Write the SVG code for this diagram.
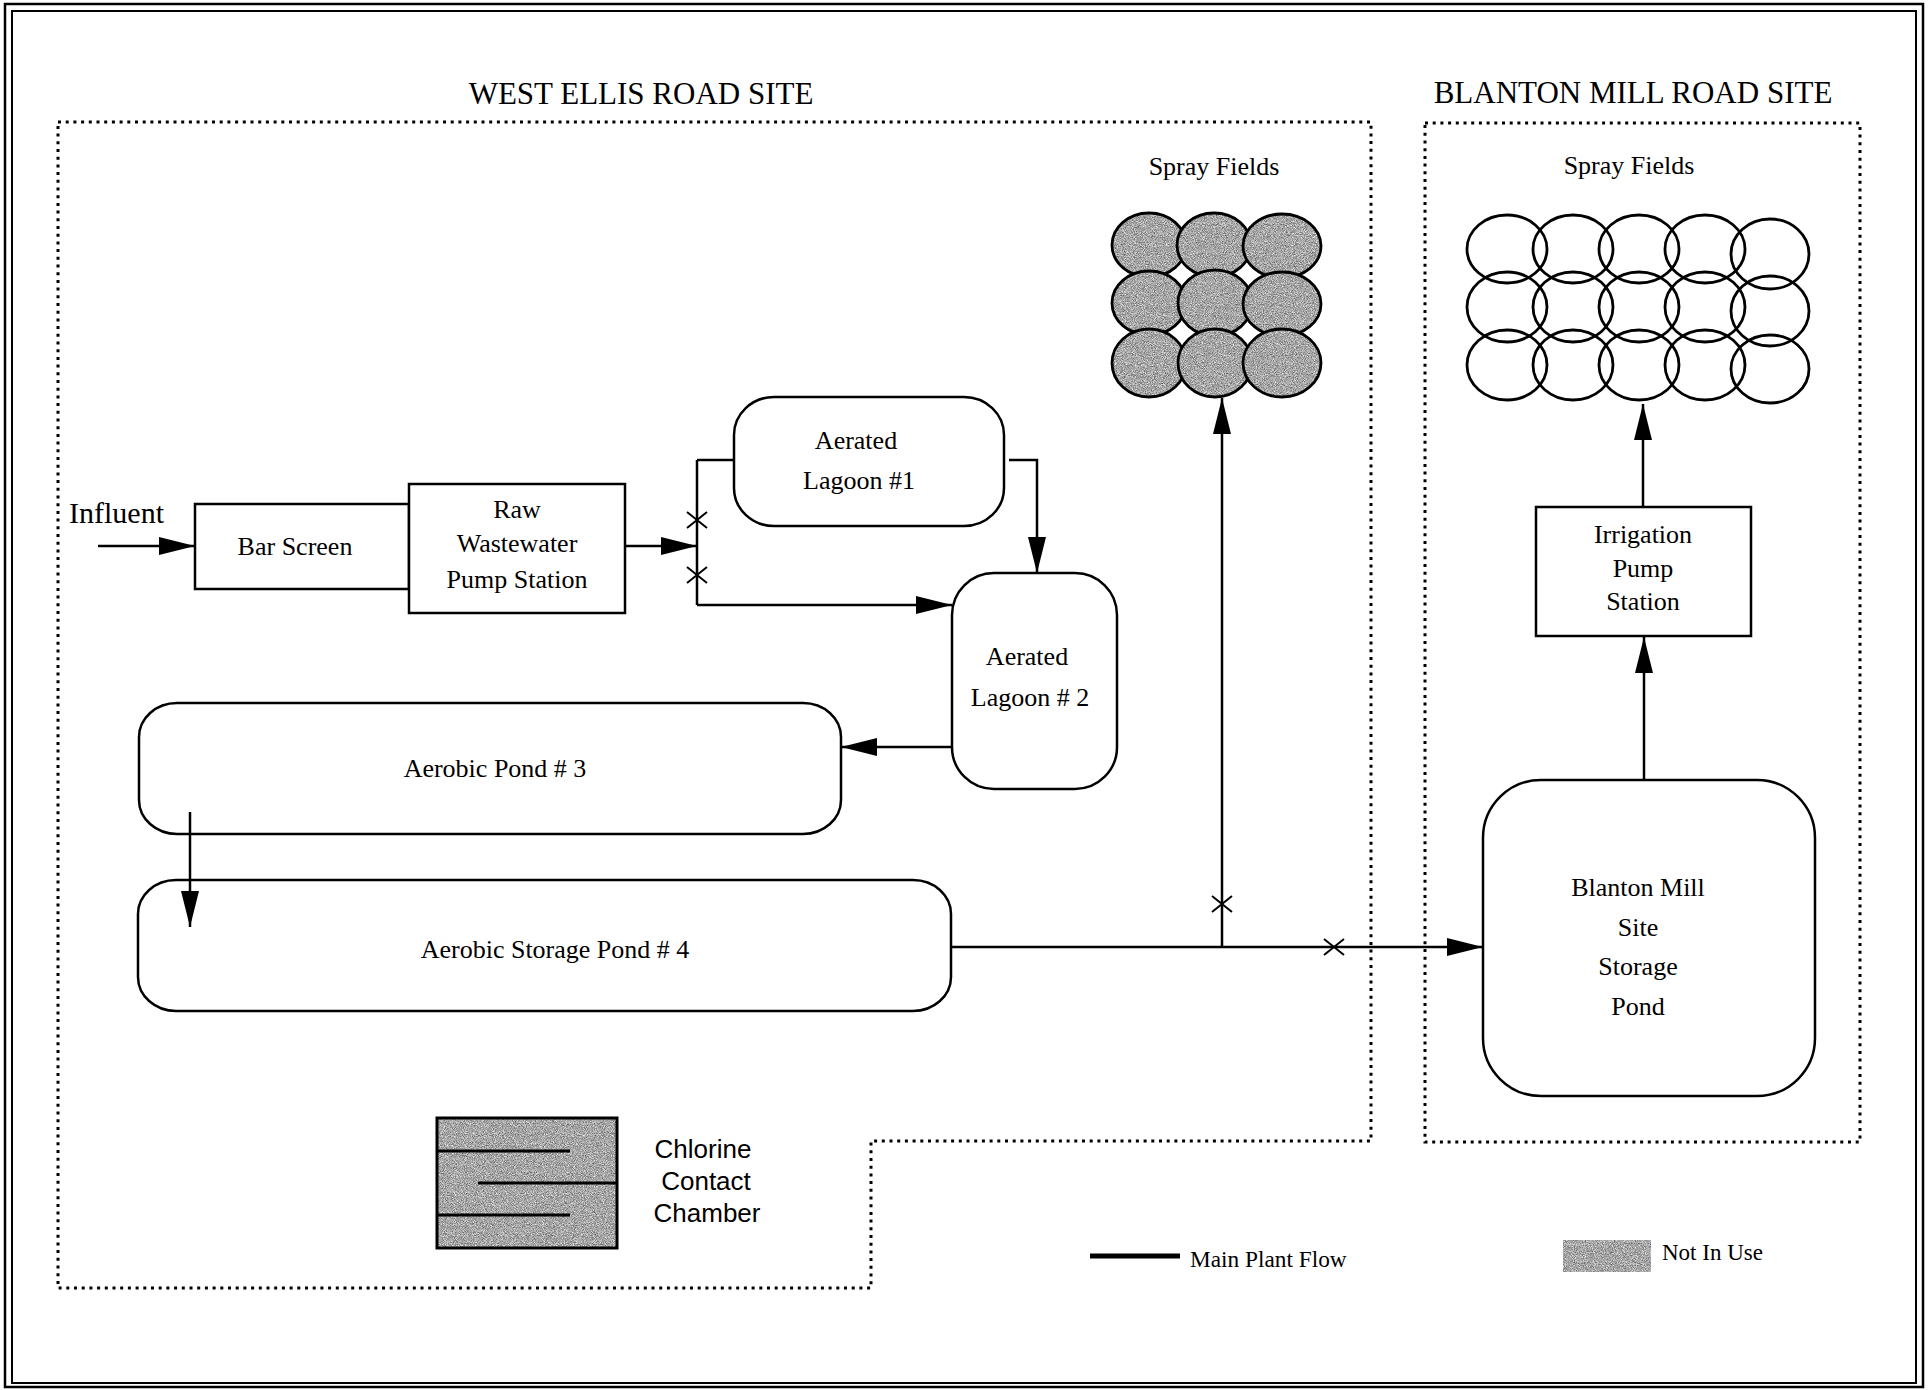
<svg xmlns="http://www.w3.org/2000/svg" width="1931" height="1390" viewBox="0 0 1931 1390">
<style>
.serif{font-family:"Liberation Serif","Times New Roman",serif;fill:#000}
.sans{font-family:"Liberation Sans",Arial,sans-serif;fill:#000}
.node{fill:#fff;stroke:#000;stroke-width:2.5}
.flow{fill:none;stroke:#000;stroke-width:2.5}
.xm{fill:none;stroke:#000;stroke-width:2}
.dot{fill:none;stroke:#000;stroke-width:3;stroke-dasharray:3 4.7}
.ring{fill:none;stroke:#000;stroke-width:2.8}
.gfill{fill:#000;filter:url(#grain)}
.gline{fill:none;stroke:#000;stroke-width:3}
.t26{font-size:26px}
</style>
<defs>
<filter id="grain" x="0" y="0" width="1" height="1" color-interpolation-filters="sRGB">
<feTurbulence type="fractalNoise" baseFrequency="1.1" numOctaves="2" seed="7" result="n"/>
<feColorMatrix in="n" type="matrix" values="0.9 0 0 0 0.2  0.9 0 0 0 0.2  0.9 0 0 0 0.2  0 0 0 0 1" result="g"/>
<feComposite in="g" in2="SourceAlpha" operator="in"/>
</filter>
<marker id="arr" markerUnits="userSpaceOnUse" markerWidth="36" markerHeight="18" refX="36" refY="9" orient="auto">
<path d="M0,0 L36,9 L0,18 Z" fill="#000"/>
</marker>
</defs>
<rect width="1931" height="1390" fill="#fff"/>
<!-- page border -->
<rect x="5" y="4" width="1918" height="1383" fill="none" stroke="#000" stroke-width="2.5"/>
<rect x="12" y="11" width="1904" height="1372" fill="none" stroke="#000" stroke-width="2"/>

<!-- site boundaries -->
<g id="west-ellis-site">
<path class="dot" d="M58,122 H1371 V1141 H871 V1288 H58 Z"/>
<text class="serif" x="641" y="104" font-size="31" text-anchor="middle">WEST ELLIS ROAD SITE</text>
</g>
<g id="blanton-site">
<rect class="dot" x="1425" y="123" width="435" height="1019"/>
<text class="serif" x="1633" y="103" font-size="31" text-anchor="middle">BLANTON MILL ROAD SITE</text>
</g>

<!-- nodes -->
<g id="influent"><text class="serif" x="69" y="523" font-size="30">Influent</text></g>
<g id="bar-screen">
<rect class="node" x="195" y="504" width="214" height="85"/>
<text class="serif t26" x="295" y="555" text-anchor="middle">Bar Screen</text>
</g>
<g id="raw-pump-station">
<rect class="node" x="409" y="484" width="216" height="129"/>
<text class="serif t26" text-anchor="middle"><tspan x="517" y="518">Raw</tspan><tspan x="517" y="552">Wastewater</tspan><tspan x="517" y="588">Pump Station</tspan></text>
</g>
<g id="aerated-lagoon-1">
<rect class="node" x="734" y="397" width="270" height="129" rx="40" ry="38"/>
<text class="serif t26" text-anchor="middle"><tspan x="856" y="449">Aerated</tspan><tspan x="859" y="489">Lagoon #1</tspan></text>
</g>
<g id="aerated-lagoon-2">
<rect class="node" x="952" y="573" width="165" height="216" rx="42" ry="42"/>
<text class="serif t26" text-anchor="middle"><tspan x="1027" y="665">Aerated</tspan><tspan x="1030" y="706">Lagoon # 2</tspan></text>
</g>
<g id="aerobic-pond-3">
<rect class="node" x="139" y="703" width="702" height="131" rx="38" ry="34"/>
<text class="serif t26" x="495" y="777" text-anchor="middle">Aerobic Pond # 3</text>
</g>
<g id="aerobic-storage-pond-4">
<rect class="node" x="138" y="880" width="813" height="131" rx="38" ry="34"/>
<text class="serif t26" x="555" y="958" text-anchor="middle">Aerobic Storage Pond # 4</text>
</g>
<g id="spray-fields-west">
<text class="serif t26" x="1214" y="175" text-anchor="middle">Spray Fields</text>
<ellipse class="gfill" cx="1149" cy="245" rx="37" ry="32"/><ellipse class="ring" cx="1149" cy="245" rx="37" ry="32"/>
<ellipse class="gfill" cx="1214" cy="245" rx="37" ry="32"/><ellipse class="ring" cx="1214" cy="245" rx="37" ry="32"/>
<ellipse class="gfill" cx="1282" cy="246" rx="39" ry="32"/><ellipse class="ring" cx="1282" cy="246" rx="39" ry="32"/>
<ellipse class="gfill" cx="1149" cy="303" rx="37" ry="32"/><ellipse class="ring" cx="1149" cy="303" rx="37" ry="32"/>
<ellipse class="gfill" cx="1215" cy="303" rx="37" ry="33"/><ellipse class="ring" cx="1215" cy="303" rx="37" ry="33"/>
<ellipse class="gfill" cx="1282" cy="304" rx="39" ry="32"/><ellipse class="ring" cx="1282" cy="304" rx="39" ry="32"/>
<ellipse class="gfill" cx="1149" cy="363" rx="37" ry="34"/><ellipse class="ring" cx="1149" cy="363" rx="37" ry="34"/>
<ellipse class="gfill" cx="1215" cy="363" rx="37" ry="34"/><ellipse class="ring" cx="1215" cy="363" rx="37" ry="34"/>
<ellipse class="gfill" cx="1282" cy="363" rx="39" ry="34"/><ellipse class="ring" cx="1282" cy="363" rx="39" ry="34"/>
</g>
<g id="spray-fields-blanton">
<text class="serif t26" x="1629" y="174" text-anchor="middle">Spray Fields</text>
<ellipse class="ring" cx="1507" cy="249" rx="40" ry="34"/>
<ellipse class="ring" cx="1573" cy="249" rx="40" ry="34"/>
<ellipse class="ring" cx="1639" cy="249" rx="40" ry="34"/>
<ellipse class="ring" cx="1705" cy="249" rx="40" ry="34"/>
<ellipse class="ring" cx="1770" cy="254" rx="39" ry="35"/>
<ellipse class="ring" cx="1507" cy="307" rx="40" ry="35"/>
<ellipse class="ring" cx="1573" cy="307" rx="40" ry="35"/>
<ellipse class="ring" cx="1639" cy="307" rx="40" ry="35"/>
<ellipse class="ring" cx="1705" cy="307" rx="40" ry="35"/>
<ellipse class="ring" cx="1770" cy="311" rx="39" ry="35"/>
<ellipse class="ring" cx="1507" cy="365" rx="40" ry="35"/>
<ellipse class="ring" cx="1573" cy="365" rx="40" ry="35"/>
<ellipse class="ring" cx="1639" cy="365" rx="40" ry="35"/>
<ellipse class="ring" cx="1705" cy="365" rx="40" ry="35"/>
<ellipse class="ring" cx="1770" cy="369" rx="39" ry="34"/>
</g>
<g id="irrigation-pump-station">
<rect class="node" x="1536" y="507" width="215" height="129"/>
<text class="serif t26" text-anchor="middle"><tspan x="1643" y="543">Irrigation</tspan><tspan x="1643" y="577">Pump</tspan><tspan x="1643" y="610">Station</tspan></text>
</g>
<g id="blanton-storage-pond">
<rect class="node" x="1483" y="780" width="332" height="316" rx="58" ry="58"/>
<text class="serif t26" text-anchor="middle"><tspan x="1638" y="896">Blanton Mill</tspan><tspan x="1638" y="936">Site</tspan><tspan x="1638" y="975">Storage</tspan><tspan x="1638" y="1015">Pond</tspan></text>
</g>
<g id="chlorine-contact-chamber">
<rect class="gfill" x="437" y="1118" width="180" height="130"/>
<rect class="gline" x="437" y="1118" width="180" height="130" stroke-width="4"/>
<path class="gline" stroke-width="4" d="M437,1151 H570 M478,1183 H617 M437,1215 H570"/>
<text class="sans t26" text-anchor="middle"><tspan x="703" y="1158">Chlorine</tspan><tspan x="706" y="1190">Contact</tspan><tspan x="707" y="1222">Chamber</tspan></text>
</g>

<!-- legend -->
<g id="legend-main-flow">
<line x1="1090" y1="1256" x2="1180" y2="1256" stroke="#000" stroke-width="5"/>
<text class="serif" x="1190" y="1267" font-size="23.3">Main Plant Flow</text>
</g>
<g id="legend-not-in-use">
<rect class="gfill" x="1563" y="1240" width="88" height="32"/>
<text class="serif" x="1662" y="1260" font-size="23">Not In Use</text>
</g>

<!-- connectors -->
<g id="connectors">
<path class="flow" marker-end="url(#arr)" d="M98,546 H195"/>
<path class="flow" marker-end="url(#arr)" d="M625,546 H697"/>
<path class="flow" d="M697,460 V605 M697,460 H734"/>
<path class="flow" marker-end="url(#arr)" d="M697,605 H952"/>
<path class="flow" marker-end="url(#arr)" d="M1009,460 H1037 V573"/>
<path class="flow" marker-end="url(#arr)" d="M952,747 H841"/>
<path class="flow" marker-end="url(#arr)" d="M190,812 V927"/>
<path class="flow" marker-end="url(#arr)" d="M951,947 H1483"/>
<path class="flow" marker-end="url(#arr)" d="M1222,947 V398"/>
<path class="flow" marker-end="url(#arr)" d="M1644,780 V637"/>
<path class="flow" marker-end="url(#arr)" d="M1643,507 V404"/>
<path class="xm" d="M687,512 L707,528 M707,512 L687,528"/>
<path class="xm" d="M687,567 L707,583 M707,567 L687,583"/>
<path class="xm" d="M1212,896 L1232,912 M1232,896 L1212,912"/>
<path class="xm" d="M1324,939 L1344,955 M1344,939 L1324,955"/>
</g>
</svg>
